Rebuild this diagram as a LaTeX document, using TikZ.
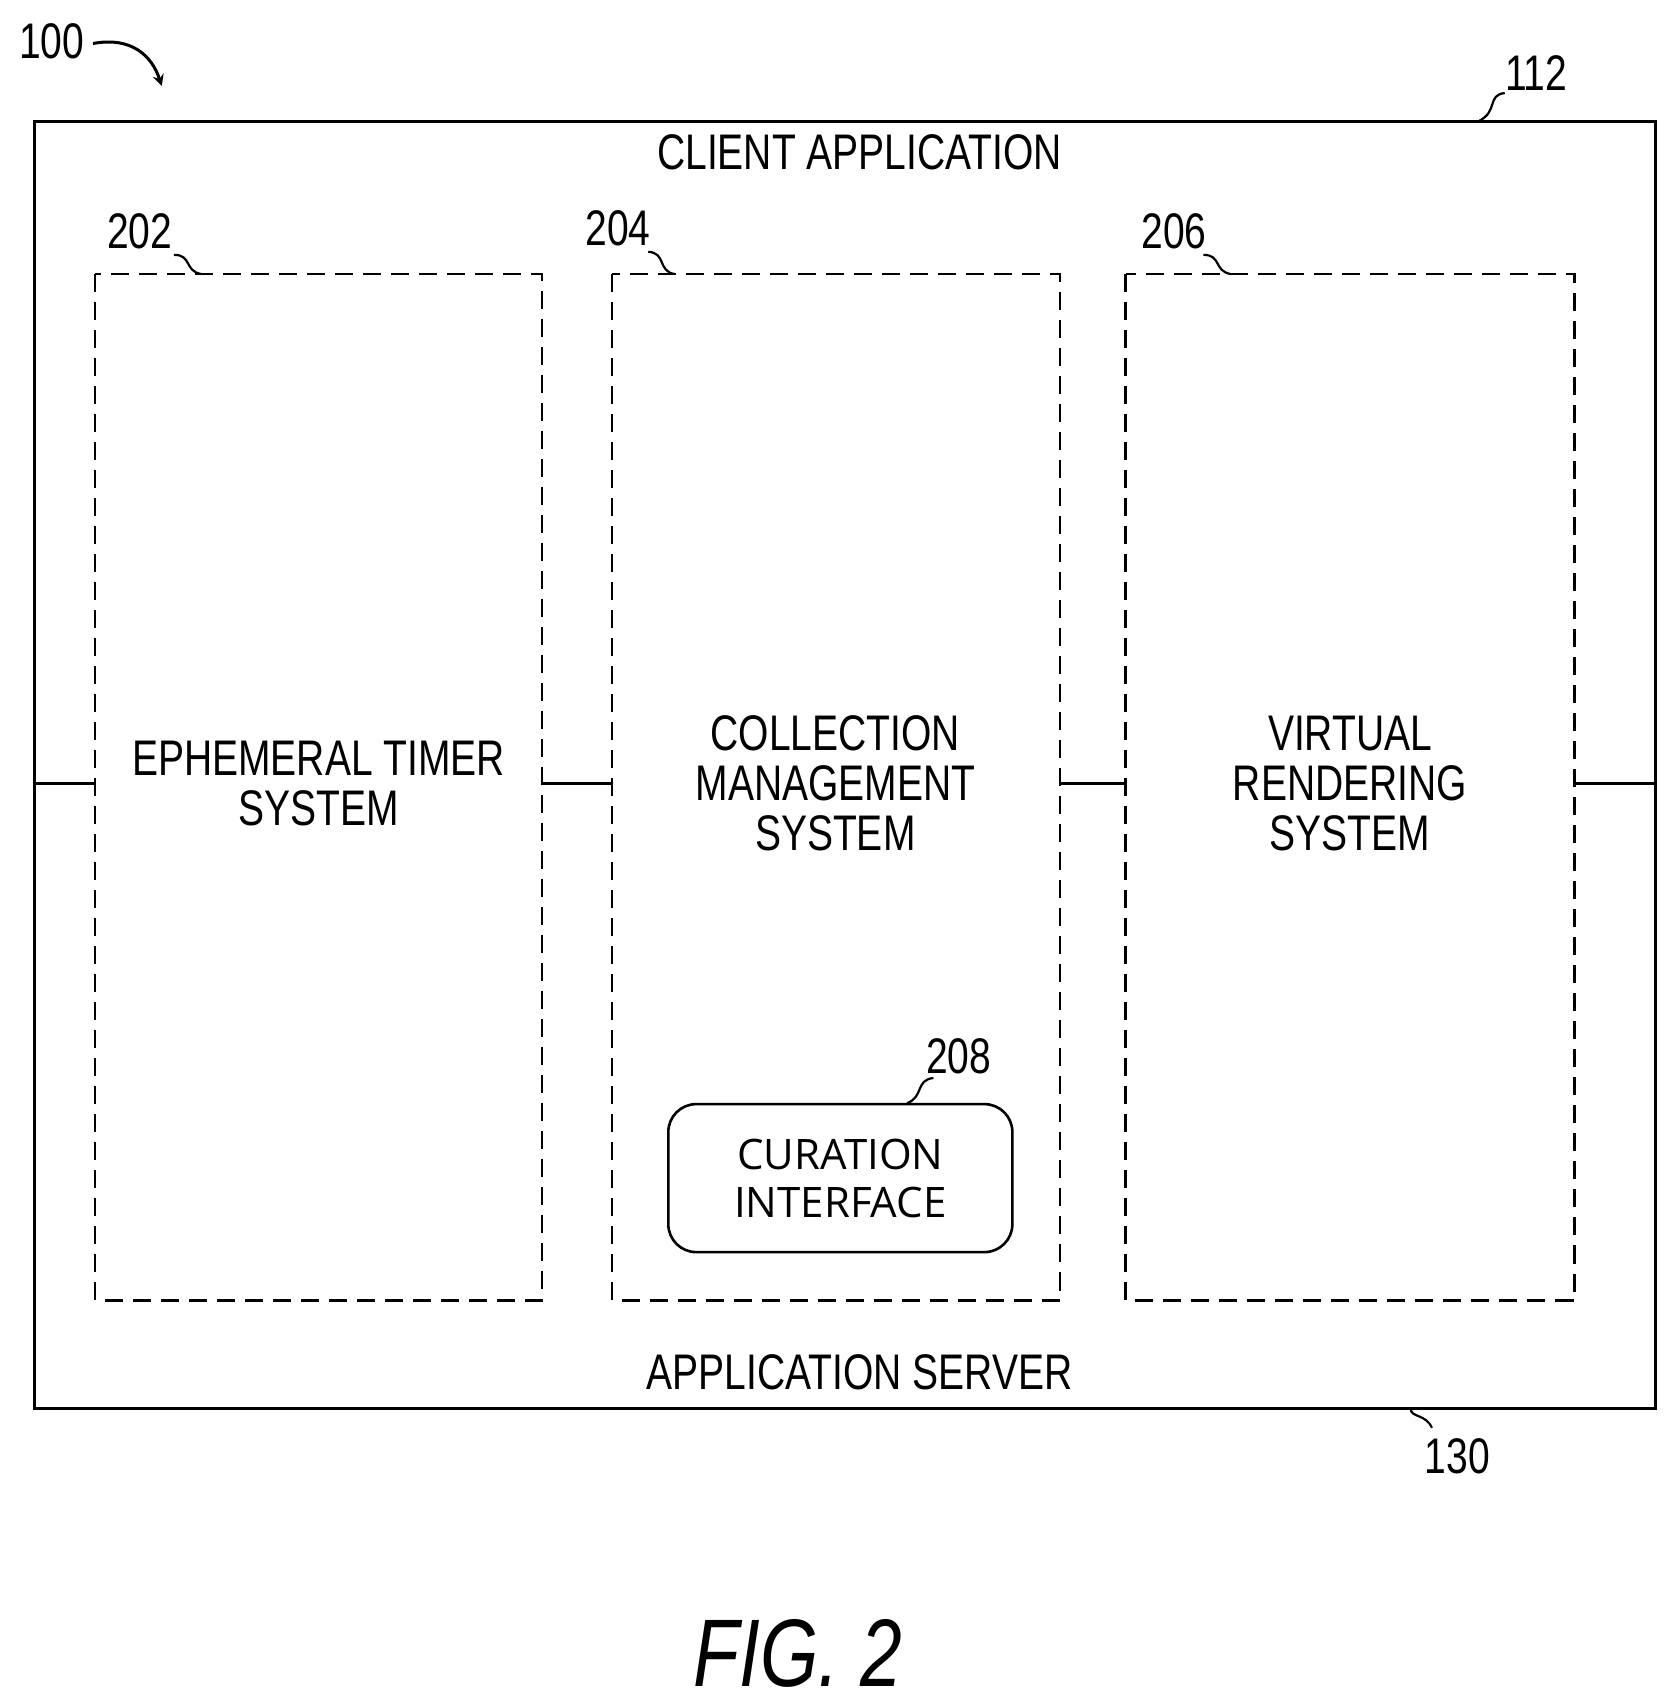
\documentclass[tikz,border=0pt]{standalone}
\usepackage{fontspec}
\setmainfont{Liberation Sans}[FakeStretch=0.78]
\newfontfamily\curfont{Open Sans}
\begin{document}
\begin{tikzpicture}[x=0.5055pt,y=-0.5055pt,line width=1.3pt,
  lbl/.style={font=\fontsize{25}{25}\selectfont},
  block/.style={draw, dash pattern=on 9pt off 5pt},
  leader/.style={line width=1.1pt}]
\useasboundingbox (0,0) rectangle (1661,1689);
\draw (34,120) rectangle (1637,1393);
\node[lbl] (client) at (850,151) {CLIENT APPLICATION};
\node[lbl] (server) at (850,1357) {APPLICATION SERVER};
\begin{scope}[every node/.style={lbl, align=center, inner sep=0pt}]
  \draw[block] (94,271) rectangle (536,1286);
  \draw[block] (605,271) rectangle (1048,1286);
  \draw[block] (1113,271) rectangle (1557,1286);
  \node (eph) at (315,775) {EPHEMERAL TIMER\\SYSTEM};
  \node (col) at (826,775) {COLLECTION\\MANAGEMENT\\SYSTEM};
  \node (vir) at (1335,775) {VIRTUAL\\RENDERING\\SYSTEM};
\end{scope}
\coordinate (l0) at (34,775); \coordinate (l1) at (94,775);
\coordinate (l2) at (536,775); \coordinate (l3) at (605,775);
\coordinate (l4) at (1048,775); \coordinate (l5) at (1113,775);
\coordinate (l6) at (1557,775); \coordinate (l7) at (1637,775);
\draw (l0) -- (l1);
\draw (l2) -- (l3);
\draw (l4) -- (l5);
\draw (l6) -- (l7);
\node[draw, rounded corners=14pt, minimum width=172pt, minimum height=74pt,
  align=center, font=\curfont\fontsize{21}{24}\selectfont] (cur) at (831,1165)
  {CURATION\\INTERFACE};
% reference numerals
\node[lbl] (n100) at (51,41) {100};
\node[lbl] (n112) at (1519,72) {112};
\node[lbl] (n130) at (1441,1440) {130};
\node[lbl] (n202) at (138,229) {202};
\node[lbl] (n204) at (611,226) {204};
\node[lbl] (n206) at (1161,229) {206};
\node[lbl] (n208) at (948,1045) {208};
\draw[-stealth, line width=1.5pt] (92,43) .. controls (130,36) and (150,55) .. (160,85);
\draw[leader] (1488,92) .. controls (1470,94) and (1482,110) .. (1462,120);
\draw[leader] (1395,1393) .. controls (1395,1402) and (1410,1398) .. (1416,1412);
\draw[leader] (172,252) .. controls (190,252) and (182,268) .. (199,271);
\draw[leader] (641,249) .. controls (659,250) and (650,268) .. (667,271);
\draw[leader] (1190,252) .. controls (1208,252) and (1200,268) .. (1217,271);
\draw[leader] (923,1066) .. controls (905,1068) and (914,1084) .. (897,1091);
\node[font=\fontsize{48}{48}\selectfont\itshape] (fig) at (789,1635) {FIG. 2};
\end{tikzpicture}
\end{document}
